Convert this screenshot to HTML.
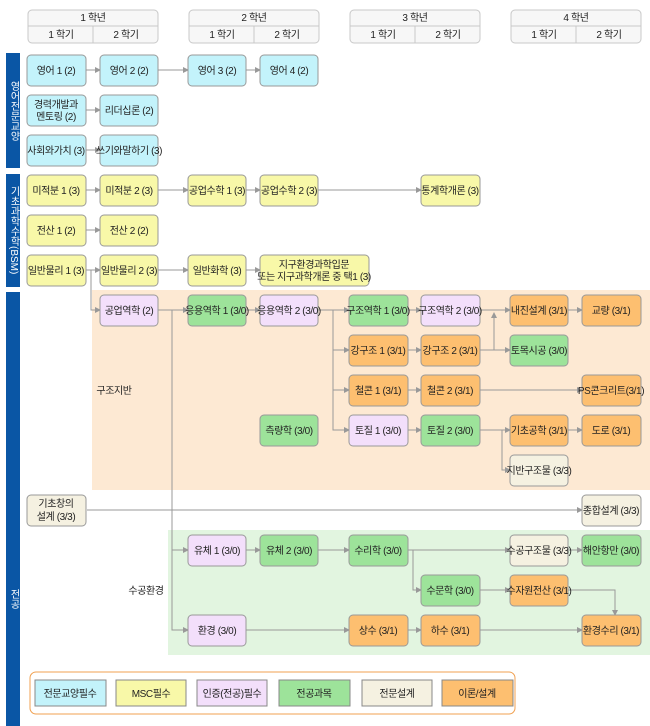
<!DOCTYPE html>
<html><head><meta charset="utf-8"><style>
html,body{margin:0;padding:0;background:#fff;}
body{width:650px;height:726px;position:relative;overflow:hidden;font-family:"Liberation Sans","Noto Sans CJK KR",sans-serif;}
.bar{position:absolute;left:6px;width:14px;background:#0a56a5;color:#fff;font-size:10px;writing-mode:vertical-rl;text-orientation:mixed;text-align:center;line-height:14px;}
svg{position:absolute;left:0;top:0;}
svg text{font-family:"Liberation Sans","Noto Sans CJK KR",sans-serif;font-size:10px;fill:#222;text-anchor:middle;letter-spacing:-0.4px;}
</style></head><body>
<svg width="650" height="726" viewBox="0 0 650 726">
<defs><marker id="a" markerWidth="6" markerHeight="6" refX="5" refY="3" orient="auto" markerUnits="userSpaceOnUse"><path d="M0,0 L6,3 L0,6z" fill="#999"/></marker></defs>
<!-- backgrounds -->
<rect x="92" y="290" width="558" height="200" fill="#fde9d3"/>
<rect x="168" y="530" width="482" height="125" fill="#e2f5e0"/>
<!-- header -->
<g stroke="#c8c8c8" fill="#f7f7f7">
<rect x="28" y="10" width="130" height="33" rx="4"/><rect x="189" y="10" width="130" height="33" rx="4"/>
<rect x="350" y="10" width="130" height="33" rx="4"/><rect x="511" y="10" width="130" height="33" rx="4"/>
<path d="M28,26H158M93,26V43M189,26H319M254,26V43M350,26H480M415,26V43M511,26H641M576,26V43" fill="none"/>
</g>
<g style="font-size:9.5px">
<text x="93" y="21">1 학년</text><text x="61" y="38">1 학기</text><text x="126" y="38">2 학기</text>
<text x="254" y="21">2 학년</text><text x="222" y="38">1 학기</text><text x="287" y="38">2 학기</text>
<text x="415" y="21">3 학년</text><text x="383" y="38">1 학기</text><text x="448" y="38">2 학기</text>
<text x="576" y="21">4 학년</text><text x="544" y="38">1 학기</text><text x="609" y="38">2 학기</text>
</g>
<!-- connectors -->
<g stroke="#999" stroke-width="1" fill="none" marker-end="url(#a)">
<path d="M86,70H100"/><path d="M158,70H188"/><path d="M246,70H260"/>
<path d="M86,110H100"/><path d="M86,150H100"/>
<path d="M86,190H100"/><path d="M158,190H188"/><path d="M246,190H260"/><path d="M318,190H421"/>
<path d="M86,230H100"/>
<path d="M86,270H100"/><path d="M158,270H188"/><path d="M246,270H260"/>
<path d="M91,270V310H100"/>
<path d="M158,310H188"/><path d="M172,310V550H188"/><path d="M172,550V630H188"/>
<path d="M246,310H260"/><path d="M318,310H349"/>
<path d="M333,310V350H349"/><path d="M333,350V390H349"/><path d="M333,390V430H349"/>
<path d="M408,310H421"/><path d="M480,310H510"/>
<path d="M480,350H494V313"/><path d="M494,350H510"/>
<path d="M568,310H582"/>
<path d="M408,350H421"/><path d="M408,390H421"/><path d="M480,390H582"/>
<path d="M408,430H421"/><path d="M480,430H510"/><path d="M502,430V470H510"/><path d="M568,430H582"/>
<path d="M87,510H582"/>
<path d="M246,550H260"/><path d="M318,550H349"/><path d="M408,550H510"/><path d="M413,550V590H421"/><path d="M568,550H582"/>
<path d="M480,590H510"/><path d="M568,590H615V615"/>
<path d="M246,630H349"/><path d="M408,630H421"/><path d="M480,630H582"/>
</g>
<!-- boxes -->
<g stroke="#999" stroke-width="1">
<g fill="#c3f3fb">
<rect x="27" y="55" width="59" height="31" rx="4"/><rect x="100" y="55" width="58" height="31" rx="4"/><rect x="188" y="55" width="58" height="31" rx="4"/><rect x="260" y="55" width="58" height="31" rx="4"/>
<rect x="27" y="95" width="59" height="31" rx="4"/><rect x="100" y="95" width="58" height="31" rx="4"/>
<rect x="27" y="135" width="59" height="31" rx="4"/><rect x="100" y="135" width="58" height="31" rx="4"/>
</g>
<g fill="#f8f8a8">
<rect x="27" y="175" width="59" height="31" rx="4"/><rect x="100" y="175" width="58" height="31" rx="4"/><rect x="188" y="175" width="58" height="31" rx="4"/><rect x="260" y="175" width="58" height="31" rx="4"/><rect x="421" y="175" width="59" height="31" rx="4"/>
<rect x="27" y="215" width="59" height="31" rx="4"/><rect x="100" y="215" width="58" height="31" rx="4"/>
<rect x="27" y="255" width="59" height="31" rx="4"/><rect x="100" y="255" width="58" height="31" rx="4"/><rect x="188" y="255" width="58" height="31" rx="4"/><rect x="260" y="255" width="109" height="31" rx="4"/>
</g>
<g fill="#f3dffb">
<rect x="100" y="295" width="58" height="31" rx="4"/><rect x="260" y="295" width="58" height="31" rx="4"/><rect x="421" y="295" width="59" height="31" rx="4"/>
<rect x="349" y="415" width="59" height="31" rx="4"/><rect x="188" y="535" width="58" height="31" rx="4"/><rect x="188" y="615" width="58" height="31" rx="4"/>
</g>
<g fill="#9de39a">
<rect x="188" y="295" width="58" height="31" rx="4"/><rect x="349" y="295" width="59" height="31" rx="4"/><rect x="510" y="335" width="58" height="31" rx="4"/>
<rect x="260" y="415" width="58" height="31" rx="4"/><rect x="421" y="415" width="59" height="31" rx="4"/>
<rect x="260" y="535" width="58" height="31" rx="4"/><rect x="349" y="535" width="59" height="31" rx="4"/><rect x="582" y="535" width="59" height="31" rx="4"/><rect x="421" y="575" width="59" height="31" rx="4"/>
</g>
<g fill="#fdbf70">
<rect x="510" y="295" width="58" height="31" rx="4"/><rect x="582" y="295" width="59" height="31" rx="4"/>
<rect x="349" y="335" width="59" height="31" rx="4"/><rect x="421" y="335" width="59" height="31" rx="4"/>
<rect x="349" y="375" width="59" height="31" rx="4"/><rect x="421" y="375" width="59" height="31" rx="4"/><rect x="582" y="375" width="59" height="31" rx="4"/>
<rect x="510" y="415" width="58" height="31" rx="4"/><rect x="582" y="415" width="59" height="31" rx="4"/>
<rect x="510" y="575" width="58" height="31" rx="4"/>
<rect x="349" y="615" width="59" height="31" rx="4"/><rect x="421" y="615" width="59" height="31" rx="4"/><rect x="582" y="615" width="59" height="31" rx="4"/>
</g>
<g fill="#f5f1e1">
<rect x="510" y="455" width="58" height="31" rx="4"/><rect x="27" y="495" width="59" height="31" rx="4"/><rect x="582" y="495" width="59" height="31" rx="4"/><rect x="510" y="535" width="58" height="31" rx="4"/>
</g>
</g>
<!-- box labels -->
<g>
<text x="56" y="74">영어 1 (2)</text><text x="129" y="74">영어 2 (2)</text><text x="217" y="74">영어 3 (2)</text><text x="289" y="74">영어 4 (2)</text>
<text x="56" y="108">경력개발과</text><text x="56" y="120">멘토링 (2)</text><text x="129" y="114">리더십론 (2)</text>
<text x="56" y="154">사회와가치 (3)</text><text x="129" y="154">쓰기와말하기 (3)</text>
<text x="56" y="194">미적분 1 (3)</text><text x="129" y="194">미적분 2 (3)</text><text x="217" y="194">공업수학 1 (3)</text><text x="289" y="194">공업수학 2 (3)</text><text x="450" y="194">통계학개론 (3)</text>
<text x="56" y="234">전산 1 (2)</text><text x="129" y="234">전산 2 (2)</text>
<text x="56" y="274">일반물리 1 (3)</text><text x="129" y="274">일반물리 2 (3)</text><text x="217" y="274">일반화학 (3)</text>
<text x="314" y="268">지구환경과학입문</text><text x="314" y="280">또는 지구과학개론 중 택1 (3)</text>
<text x="129" y="314">공업역학 (2)</text><text x="217" y="314">응용역학 1 (3/0)</text><text x="289" y="314">응용역학 2 (3/0)</text><text x="378" y="314">구조역학 1 (3/0)</text><text x="450" y="314">구조역학 2 (3/0)</text><text x="539" y="314">내진설계 (3/1)</text><text x="611" y="314">교량 (3/1)</text>
<text x="378" y="354">강구조 1 (3/1)</text><text x="450" y="354">강구조 2 (3/1)</text><text x="539" y="354">토목시공 (3/0)</text>
<text x="378" y="394">철콘 1 (3/1)</text><text x="450" y="394">철콘 2 (3/1)</text><text x="611" y="394">PS콘크리트(3/1)</text>
<text x="289" y="434">측량학 (3/0)</text><text x="378" y="434">토질 1 (3/0)</text><text x="450" y="434">토질 2 (3/0)</text><text x="539" y="434">기초공학 (3/1)</text><text x="611" y="434">도로 (3/1)</text>
<text x="539" y="474">지반구조물 (3/3)</text>
<text x="56" y="507">기초창의</text><text x="56" y="520">설계 (3/3)</text><text x="611" y="514">종합설계 (3/3)</text>
<text x="217" y="554">유체 1 (3/0)</text><text x="289" y="554">유체 2 (3/0)</text><text x="378" y="554">수리학 (3/0)</text><text x="539" y="554">수공구조물 (3/3)</text><text x="611" y="554">해안항만 (3/0)</text>
<text x="450" y="594">수문학 (3/0)</text><text x="539" y="594">수자원전산 (3/1)</text>
<text x="217" y="634">환경 (3/0)</text><text x="378" y="634">상수 (3/1)</text><text x="450" y="634">하수 (3/1)</text><text x="611" y="634">환경수리 (3/1)</text>
<text x="114" y="394">구조지반</text><text x="146" y="594">수공환경</text>
</g>
<!-- legend -->
<rect x="30" y="672" width="485" height="42" rx="6" fill="#fff" stroke="#f0a050"/>
<g stroke="#888">
<rect x="35" y="680" width="71" height="26" fill="#c3f3fb"/><rect x="116" y="680" width="70" height="26" fill="#f8f8a8"/>
<rect x="197" y="680" width="70" height="26" fill="#f3dffb"/><rect x="279" y="680" width="71" height="26" fill="#9de39a"/>
<rect x="362" y="680" width="70" height="26" fill="#f5f1e1"/><rect x="442" y="680" width="71" height="26" fill="#fdbf70"/>
</g>
<g>
<text x="70" y="697">전문교양필수</text><text x="151" y="697">MSC필수</text><text x="232" y="697">인증(전공)필수</text>
<text x="314" y="697">전공과목</text><text x="397" y="697">전문설계</text><text x="477" y="697">이론/설계</text>
</g>
</svg>
<div class="bar" style="top:53px;height:115px;">영어전문교양</div>
<div class="bar" style="top:174px;height:113px;">기초과학수학(BSM)</div>
<div class="bar" style="top:292px;height:434px;padding-top:180px;box-sizing:border-box;">전공</div>
</body></html>
